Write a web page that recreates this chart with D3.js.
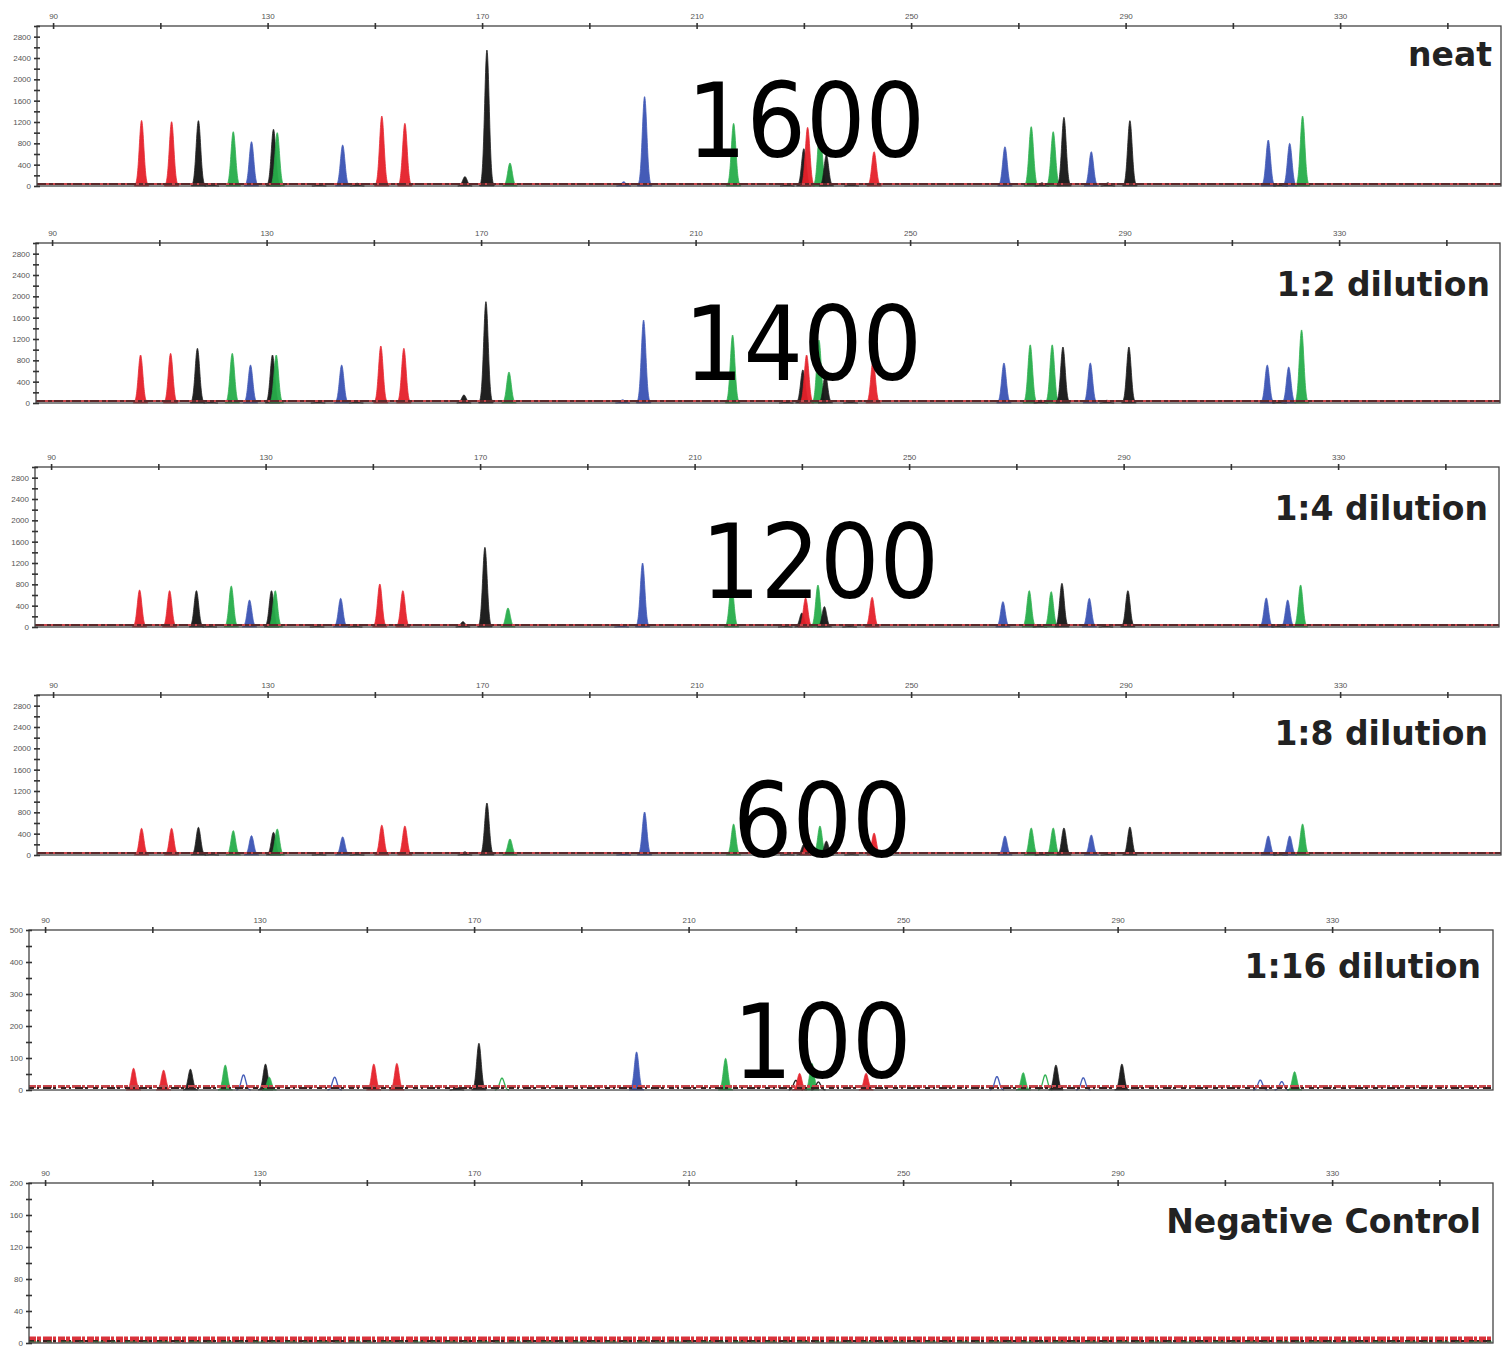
<!DOCTYPE html>
<html>
<head>
<meta charset="utf-8">
<script src="https://cdn.jsdelivr.net/npm/d3@7"></script>
<style>
  body { margin: 0; background: #fff; }
  svg { display: block; }
</style>
</head>
<body>
<div id="chart"></div>
<script>
// fragment sizes (bp) and dye colour of every peak
const peakSizes = [106.5, 112.1, 117.1, 119.6, 123.6, 127.0, 131.1, 131.8, 139.6, 144.0, 146.7,
  151.3, 155.6, 166.8, 170.9, 175.2, 196.4, 200.3, 216.9, 226.9, 230.0, 230.7, 233.0, 234.2,
  238.9, 243.1, 267.5, 272.4, 274.4, 276.5, 278.5, 283.6, 286.7, 290.8, 316.6, 318.9, 320.6, 323.0];
const peakDyes = ["red", "red", "black", "black", "green", "blue", "black", "green", "black", "blue", "black",
  "red", "red", "black", "black", "green", "blue", "blue", "green", "black", "black", "red", "green", "black",
  "black", "red", "blue", "green", "black", "green", "black", "blue", "black", "black", "blue", "black", "blue", "green"];

// peak heights (RFU) for each run
const heightsNeat = [1230, 1205, 1225, 40, 1018, 831, 1063, 1000, 30, 769, 50,
  1312, 1175, 175, 2550, 430, 80, 1675, 1175, 40, 700, 1100, 1081, 580,
  40, 643, 737, 1112, 60, 1018, 1288, 643, 60, 1225, 862, 40, 800, 1312];
const heights1to2 = [900, 931, 1025, 30, 931, 712, 900, 900, 25, 712, 40,
  1069, 1025, 150, 1900, 580, 60, 1556, 1275, 30, 620, 900, 1180, 530,
  30, 800, 750, 1090, 50, 1090, 1050, 750, 50, 1050, 712, 30, 675, 1370];
const heights1to4 = [694, 681, 681, 20, 769, 506, 680, 680, 15, 538, 25,
  806, 681, 100, 1494, 356, 50, 1200, 800, 20, 262, 544, 787, 381,
  20, 556, 475, 681, 30, 662, 819, 538, 30, 681, 544, 20, 506, 787];
const heights1to8 = [500, 500, 519, 15, 456, 362, 425, 487, 10, 340, 15,
  560, 544, 60, 975, 300, 30, 806, 580, 10, 200, 420, 544, 260,
  10, 410, 356, 506, 20, 506, 506, 375, 20, 525, 356, 10, 356, 581];
const heights1to16 = [68, 62, 65, 0, 78, 47, 81, 40, 0, 40, 0,
  81, 83, 10, 146, 37, 0, 119, 99, 0, 30, 52, 83, 25,
  0, 52, 42, 54, 0, 47, 78, 38, 0, 81, 31, 0, 26, 57];
const heightsNegative = peakSizes.map(() => 0);
// peaks drawn only as outlines in the 1:16 run
const outlined1to16 = [127.0, 144.0, 175.2, 230.0, 234.2, 267.5, 276.5, 283.6, 316.6, 320.6];

const runNames = ["neat", "1:2 dilution", "1:4 dilution", "1:8 dilution", "1:16 dilution", "Negative Control"];
const runCopies = ["1600", "1400", "1200", "600", "100", ""];
const runHeights = [heightsNeat, heights1to2, heights1to4, heights1to8, heights1to16, heightsNegative];
const yMaxes = [3000, 3000, 3000, 3000, 500, 200];
const yLabelSteps = [400, 400, 400, 400, 100, 40];
const yTickSteps = [200, 200, 200, 200, 50, 20];
const sizeLabels = [90, 130, 170, 210, 250, 290, 330];
const sizeTicks = d3.range(90, 360, 20);

const dyeColor = {red: "#e5202a", green: "#27ad4a", blue: "#3a53b4", black: "#151515"};

// layout
const W = 1511, H = 1354;
const panelW = 1464, panelH = 160;
const panelPos = [
  {x: 37, y: 26, lx: 1492, ly: 66, cx: 687, cy: 157},
  {x: 36, y: 243, lx: 1490, ly: 296, cx: 684, cy: 380},
  {x: 35, y: 467, lx: 1488, ly: 520, cx: 701, cy: 598},
  {x: 37, y: 695, lx: 1488, ly: 745, cx: 733, cy: 857},
  {x: 29, y: 930, lx: 1481, ly: 978, cx: 733, cy: 1078},
  {x: 29, y: 1183, lx: 1481, ly: 1233, cx: 0, cy: 0}
];

const svg = d3.select("#chart").append("svg")
  .attr("width", W)
  .attr("height", H);

const sigma = 0.42;

runNames.forEach((name, p) => {
  const pos = panelPos[p];
  const g = svg.append("g").attr("transform", "translate(" + pos.x + "," + pos.y + ")");

  const x = d3.scaleLinear().domain([87, 360]).range([0, panelW]);
  const y = d3.scaleLinear().domain([0, yMaxes[p]]).range([panelH, 0]);

  // peaks
  const area = d3.area()
    .x(d => x(d[0]))
    .y0(y(0))
    .y1(d => y(d[1]));
  const line = d3.line()
    .x(d => x(d[0]))
    .y(d => y(d[1]));

  const isOpen = d => p === 4 && outlined1to16.includes(d.size);

  const peaks = peakSizes.map((s, i) => ({size: s, dye: peakDyes[i], h: runHeights[p][i]}))
    .filter(d => d.h > 0);

  g.selectAll("path.peak")
    .data(peaks)
    .enter()
    .append("path")
    .attr("class", "peak")
    .attr("d", d => {
      const pts = d3.range(-3.2, 3.21, 0.1).map(k => [d.size + k * sigma, d.h * Math.exp(-k * k / 2)]);
      return isOpen(d) ? line(pts) : area(pts);
    })
    .attr("fill", d => isOpen(d) ? "none" : dyeColor[d.dye])
    .attr("stroke", d => dyeColor[d.dye])
    .attr("stroke-width", d => isOpen(d) ? 1.3 : 0.8)
    .attr("opacity", 0.95);

  // baseline noise
  const noisy = p >= 4;
  g.append("line")
    .attr("x1", 0).attr("x2", panelW)
    .attr("y1", panelH - (noisy ? 3.5 : 2)).attr("y2", panelH - (noisy ? 3.5 : 2))
    .attr("stroke", p === 5 ? "#d9333b" : "#c8474c")
    .attr("stroke-width", p === 5 ? 6 : (p === 4 ? 3 : 2))
    .attr("stroke-dasharray", noisy ? "7 1 4 2 9 1 3 2" : null);
  g.append("line")
    .attr("x1", 0).attr("x2", panelW)
    .attr("y1", panelH - 2).attr("y2", panelH - 2)
    .attr("stroke", "#3a2020")
    .attr("stroke-width", noisy ? 2.2 : 1.6)
    .attr("stroke-dasharray", noisy ? "5 3 2 4 8 2 3 5" : "9 3 4 2");
  if (p === 5) {
    g.append("line")
      .attr("x1", 0).attr("x2", panelW)
      .attr("y1", panelH - 1).attr("y2", panelH - 1)
      .attr("stroke", "#2f8a45")
      .attr("stroke-width", 1.2)
      .attr("stroke-dasharray", "12 6 5 9");
  }

  // frame
  g.append("rect")
    .attr("width", panelW).attr("height", panelH)
    .attr("fill", "none")
    .attr("stroke", "#444")
    .attr("stroke-width", 1.3);

  // top size axis
  const top = g.append("g");
  top.call(d3.axisTop(x).tickValues(sizeTicks).tickSize(0).tickFormat(""));
  top.select(".domain").remove();
  top.selectAll(".tick").append("line")
    .attr("y1", -3).attr("y2", 3)
    .attr("stroke", "#333").attr("stroke-width", 1.6);
  top.selectAll(".tick")
    .filter(d => sizeLabels.includes(d))
    .append("text")
    .attr("y", -7)
    .attr("fill", "#555")
    .attr("font-size", 8)
    .attr("font-family", "Liberation Sans, Arial, sans-serif")
    .attr("text-anchor", "middle")
    .text(d => d);

  // left RFU axis
  const left = g.append("g");
  left.call(d3.axisLeft(y).tickValues(d3.range(0, yMaxes[p] + 1, yTickSteps[p])).tickSize(0).tickFormat(""));
  left.select(".domain").remove();
  left.selectAll(".tick").append("line")
    .attr("x1", -3).attr("x2", 3)
    .attr("stroke", "#333").attr("stroke-width", 1.6);
  left.selectAll(".tick")
    .filter(d => d % yLabelSteps[p] === 0)
    .append("text")
    .attr("x", -6)
    .attr("dy", "0.32em")
    .attr("fill", "#555")
    .attr("font-size", 8)
    .attr("font-family", "Liberation Sans, Arial, sans-serif")
    .attr("text-anchor", "end")
    .text(d => d);

  // run name
  svg.append("text")
    .attr("x", pos.lx).attr("y", pos.ly)
    .attr("text-anchor", "end")
    .attr("font-family", "DejaVu Sans, Verdana, sans-serif")
    .attr("font-weight", "bold")
    .attr("font-size", 33)
    .attr("fill", "#222")
    .text(name);

  // copy number overlay
  if (runCopies[p]) {
    svg.append("text")
      .attr("x", pos.cx).attr("y", pos.cy)
      .attr("font-family", "DejaVu Sans, sans-serif")
      .attr("font-size", 104)
      .attr("fill", "#000")
      .attr("textLength", runCopies[p].length * 59.5)
      .attr("lengthAdjust", "spacingAndGlyphs")
      .text(runCopies[p]);
  }
});
</script>
</body>
</html>
